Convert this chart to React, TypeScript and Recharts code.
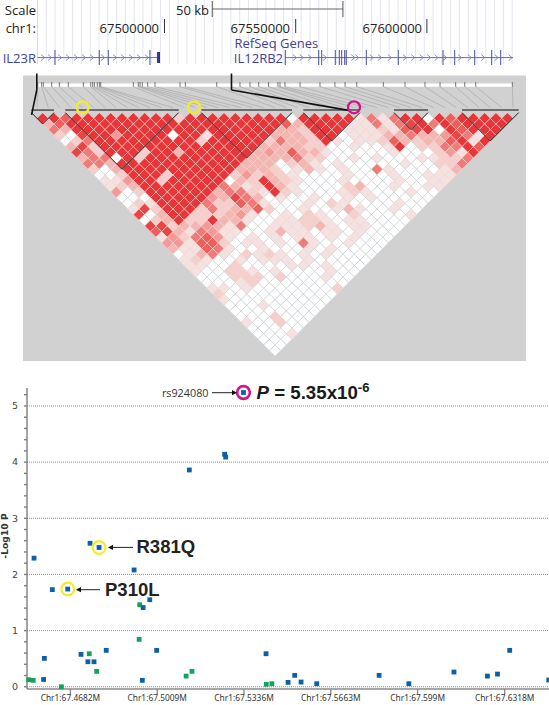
import {
  ScatterChart,
  Scatter,
  XAxis,
  YAxis,
  CartesianGrid,
  ReferenceLine,
  ReferenceArea,
  ReferenceDot,
} from "recharts";

const W = 549;

// ---------- genome track (positions in kb on chr1) ----------
const COORD_TICKS = [67500, 67550, 67600];
const COORD_LABELS = ["67500000", "67550000", "67600000"];
const SCALE_BAR = [67518.2, 67568.0];
const IL23R_SPAN = [67451.6, 67498.1];
const IL23R_EXONS = [67458.27, 67475.15, 67478.58, 67494.47];
const IL23R_THICK = [67497.3, 67497.7, 67498.1];
const IL23R_ARROWS = [
  67453.7, 67456.36, 67460.18, 67463.22, 67466.27, 67469.32, 67472.37, 67476.56, 67481.14, 67484.18,
  67487.23, 67490.28, 67493.33,
];
const IL12RB2_SPAN = [67546.04, 67632.8];
const IL12RB2_EXONS = [
  67546.04, 67558.77, 67559.91, 67565.09, 67566.62, 67567.53, 67568.68, 67569.28, 67576.91, 67589.1,
  67606.14, 67610.6, 67618.22, 67624.7, 67628.13,
];
const IL12RB2_ARROWS = [
  67549.73, 67552.29, 67555.45, 67561.17, 67571.95, 67573.48, 67578.96, 67582.13, 67585.94, 67591.65,
  67594.82, 67598.02, 67600.9, 67603.7, 67606.9, 67612.6, 67616.4, 67621.5, 67626.6, 67631.9,
];
const GUIDE_KB = [
  67451.6, 67454.95, 67458.3, 67461.65, 67465, 67468.35, 67471.7, 67475.05, 67478.4, 67481.75, 67485.1,
  67488.45, 67491.8, 67495.15, 67498.5, 67501.85, 67505.2, 67508.55, 67511.9, 67515.25, 67518.6,
  67521.95, 67525.3, 67528.65, 67532, 67535.35, 67538.7, 67542.05, 67545.4, 67548.75, 67552.1, 67555.45,
  67558.8, 67562.15, 67565.5, 67568.85, 67572.2, 67575.55, 67578.9, 67582.25, 67585.6, 67588.95, 67592.3,
  67595.65, 67599, 67602.35, 67605.7, 67609.05, 67612.4, 67615.75, 67619.1, 67622.45, 67625.8, 67629.15,
  67632.5,
];

// ---------- LD heatmap: one string per distance row, one digit per pair ----------
const LD_COLORS = [
  "#ffffff", "#f4e2e2", "#f4cfcd", "#f3b6b3", "#f19a98", "#ee7b79", "#ec5f5d", "#e94546", "#e83539",
];
const LD_ROWS = [
  "886888888888 2 888888888 0 88888 151588086 88888",
  "368 888888888888888888 63 8888 1151578586 8888",
  "538 88888888888888888 332 888 11121678086 888",
  "207 88 4 8888 0 88 1 88888 3332 88 0111 335334 7518",
  "025 888888888 2 88888 25332 8 10112632336818",
  "372 88888888888888 333322 00100180225586",
  "752 888 2 88 3 888888 343633 10000010002418",
  "355 0 8 2 888888888 3333522 0010100011225",
  "553 88888888888 33302310 100000100225",
  "203 8888888888 33320131010051000013",
  "002 888 2 88888 24232100001000100111",
  "114 88 2 88888 0 328 3210001000010011",
  "123 8888888 53128 310000230010011",
  "402 888888 355218 21000121000100",
  "000 88888 437530 10010010100000",
  "021 8888 5226510 0010210000100",
  "172 888 252336200 10013100100",
  "703 88 222341001 02100200001",
  "023 8 228331001 12210110000",
  "772 33431500 111231011000",
  "673 1541100 131101101000",
  "142564101010110101000",
  "44166201101051001000",
  "3116510010001010000",
  "013510212101010000",
  "12100101110100000",
  "1100200001101000",
  "100221010000100",
  "00022202000100",
  "0001200000000",
  "110100000002",
  "20000000000",
  "1000000000",
  "000100000",
  "00000000",
  "0002000",
  "100200",
  "00000",
  "0001",
  "000",
  "00",
  "0",
];
// haplotype blocks as [first column, last column]
const LD_BLOCKS = [
  [0, 0],
  [3, 11],
  [15, 21],
  [24, 27],
  [32, 33],
  [38, 41],
];
// where each SNP sits on the map strip above the triangle, in column units
const MARKER_POS = [
  -0.44, -0.09, 0.06, 0.8, 1.47, 2.26, 3.59, 4.24, 4.41, 4.56, 4.82, 5.0, 5.12, 8.0, 8.44, 8.59, 8.79, 9.27, 9.91,
  12.12, 12.59, 15.36, 16.66, 17.41, 18.29, 19.06, 19.93, 20.76, 20.94, 21.38, 22.71, 24.47, 25.79, 26.68, 27.71,
  30.06, 31.97, 33.73, 35.06, 36.44, 37.24, 38.21, 41.44,
];
const LD_CIRCLES = [
  { x: 3.53, y: -1.94, color: "#f4ea2c" },
  { x: 13.35, y: -1.94, color: "#f4ea2c" },
  { x: 27.47, y: -1.94, color: "#d4128c" },
];
const LD_LEADERS = [
  [
    { x: -0.52, y: -7.9 },
    { x: -0.52, y: -5 },
    { x: -0.98, y: -0.6 },
  ],
  [
    { x: 16.66, y: -7.9 },
    { x: 16.66, y: -5 },
    { x: 27, y: -1.4 },
  ],
];

// ---------- association plot ----------
const BLUE_MB = [
  67.4545, 67.4756, 67.479, 67.4922, 67.4614, 67.4672, 67.4981, 67.4956, 67.4584, 67.4722, 67.4748, 67.4771, 67.4817,
  67.5007, 67.5419, 67.4581, 67.4953, 67.513, 67.5263, 67.5267, 67.5334, 67.5502, 67.5527, 67.5551, 67.561, 67.5845,
  67.5957, 67.6127, 67.6253, 67.6291, 67.6337, 67.6484,
];
const BLUE_LOGP = [
  2.29, 2.555, 2.48, 2.08, 1.73, 1.74, 1.55, 1.41, 0.505, 0.577, 0.445, 0.445, 0.648, 0.648, 0.588, 0.13, 0.114, 3.86,
  4.14, 4.09, 5.24, 0.078, 0.203, 0.084, 0.054, 0.203, 0.054, 0.262, 0.19, 0.226, 0.648, 0.12,
];
const GREEN_MB = [
  67.4525, 67.4542, 67.4648, 67.4753, 67.4781, 67.4943, 67.4941, 67.5118, 67.514, 67.542, 67.5441,
];
const GREEN_LOGP = [0.125, 0.114, 0, 0.588, 0.274, 1.46, 0.844, 0.19, 0.274, 0.043, 0.054];
const X_TICKS = [67.4682, 67.5009, 67.5336, 67.5663, 67.599, 67.6318];
const Y_TICKS = [0, 0.2, 0.4, 0.6, 0.8, 1, 1.2, 1.4, 1.6, 1.8, 2, 2.2, 2.4, 2.6, 2.8, 3, 3.2, 3.4, 3.6, 3.8, 4, 4.2, 4.4, 4.6, 4.8, 5, 5.2];
const Y_GRID = [0, 1, 2, 3, 4, 5];
const HITS = [
  { x: 67.5334, y: 5.24, color: "#d4128c", width: 2.6 },
  { x: 67.479, y: 2.48, color: "#f4ea2c", width: 2.2 },
  { x: 67.4672, y: 1.74, color: "#f4ea2c", width: 2.2 },
];

const GENE_BLUE = "#3f4396";
const TEXT_FONT = '"Open Sans", "Noto Sans", sans-serif';
const BOLD_FONT = '"Liberation Sans", Arial, sans-serif';
const NO_MARGIN = { top: 0, right: 0, bottom: 0, left: 0 };

const ldCells = LD_ROWS.flatMap((row, r) =>
  row
    .replace(/ /g, "")
    .split("")
    .map((d, k) => ({ x: k + r / 2, y: r, level: Number(d) })),
);

function Diamond({ cx, cy, payload }: any) {
  const h = 5.667;
  const white = payload.level === 0;
  return (
    <polygon
      points={`${cx},${cy - h} ${cx + h},${cy} ${cx},${cy + h} ${cx - h},${cy}`}
      fill={LD_COLORS[payload.level]}
      stroke={white ? "#c5ccd1" : "#f8d6cc"}
      strokeWidth={0.6}
    />
  );
}

function Ring({ cx, cy, payload }: any) {
  return <circle cx={cx} cy={cy} r={6} fill="none" stroke={payload.color} strokeWidth={2.3} />;
}

function Chevron({ cx, cy }: any) {
  return (
    <polyline
      points={`${cx - 2},${cy - 3} ${cx + 1.5},${cy} ${cx - 2},${cy + 3}`}
      fill="none"
      stroke="#7d80ba"
      strokeWidth={0.9}
    />
  );
}

function Square({ cx, cy, fill }: any) {
  return <rect x={cx - 2.4} y={cy - 2.4} width={4.8} height={4.8} fill={fill} />;
}

function Arrow({ x1, x2, y }: { x1: number; x2: number; y: number }) {
  const dir = x2 > x1 ? 1 : -1;
  return (
    <g>
      <line x1={x1} y1={y} x2={x2 - dir * 3} y2={y} stroke="#222" strokeWidth={1} />
      <polygon points={`${x2},${y} ${x2 - dir * 5},${y - 2.6} ${x2 - dir * 5},${y + 2.6}`} fill="#111" />
    </g>
  );
}

function GenomeTrack() {
  const geneY = 57.6;
  return (
    <ScatterChart width={W} height={70} margin={NO_MARGIN} style={{ position: "absolute", left: 0, top: 0 }}>
      <XAxis type="number" dataKey="x" domain={[67437.31, 67646.54]} hide />
      <YAxis type="number" dataKey="y" domain={[0, 70]} reversed hide />
      {GUIDE_KB.map((kb, i) => (
        <ReferenceLine
          key={kb}
          segment={[{ x: kb, y: 0 }, { x: kb, y: 64 }]}
          stroke={i === 0 ? "#eed3cb" : "#e3e6f0"}
          strokeWidth={1}
        />
      ))}
      <ReferenceLine segment={[{ x: SCALE_BAR[0], y: 9 }, { x: SCALE_BAR[1], y: 9 }]} stroke="#666" />
      {SCALE_BAR.map((kb) => (
        <ReferenceLine key={kb} segment={[{ x: kb, y: 1 }, { x: kb, y: 17 }]} stroke="#555" />
      ))}
      {COORD_TICKS.map((kb) => (
        <ReferenceLine key={kb} segment={[{ x: kb, y: 19 }, { x: kb, y: 33 }]} stroke="#333" />
      ))}
      <ReferenceLine segment={[{ x: IL23R_SPAN[0], y: geneY }, { x: IL23R_SPAN[1], y: geneY }]} stroke="#6a6db0" />
      <ReferenceLine segment={[{ x: IL12RB2_SPAN[0], y: geneY }, { x: IL12RB2_SPAN[1], y: geneY }]} stroke="#6a6db0" />
      {IL23R_EXONS.concat(IL12RB2_EXONS).map((kb) => (
        <ReferenceLine key={kb} segment={[{ x: kb, y: 50 }, { x: kb, y: 65 }]} stroke="#4a4e9e" />
      ))}
      {IL23R_THICK.map((kb) => (
        <ReferenceLine key={kb} segment={[{ x: kb, y: 52 }, { x: kb, y: 63 }]} stroke="#2c2f90" />
      ))}
      <Scatter
        data={IL23R_ARROWS.concat(IL12RB2_ARROWS).map((x) => ({ x, y: geneY }))}
        shape={<Chevron />}
        isAnimationActive={false}
      />
    </ScatterChart>
  );
}

const LD_STYLE = { position: "absolute", left: 0, top: 60 } as const;

function ldAxes() {
  return [
    <XAxis key="x" type="number" dataKey="x" domain={[-3.765, 44.676]} hide />,
    <YAxis key="y" type="number" dataKey="y" domain={[-10.288, 43.53]} reversed hide />,
  ];
}

function LdPanel() {
  return (
    <>
      <ScatterChart width={W} height={305} margin={NO_MARGIN} style={LD_STYLE}>
        {ldAxes()}
        <ReferenceArea x1={-1.735} x2={42.647} y1={-7.55} y2={42.83} fill="#d1d1d1" fillOpacity={1} stroke="none" />
        <ReferenceArea x1={-0.44} x2={41.44} y1={-6.14} y2={-5.58} fill="#ffffff" fillOpacity={1} stroke="none" />
        {MARKER_POS.map((pos, i) => (
          <ReferenceLine
            key={`m${i}`}
            segment={[{ x: pos, y: -5.58 }, { x: i - 0.5, y: -1.9 }]}
            stroke="#a3a3a3"
            strokeWidth={0.6}
          />
        ))}
        {MARKER_POS.map((pos, i) => (
          <ReferenceLine
            key={`t${i}`}
            segment={[{ x: pos, y: -6.4 }, { x: pos, y: -5.58 }]}
            stroke="#555"
            strokeWidth={0.8}
          />
        ))}
        <Scatter data={ldCells} shape={<Diamond />} isAnimationActive={false} />
      </ScatterChart>
      {/* second layer: reference lines would otherwise sit under the cells */}
      <ScatterChart width={W} height={305} margin={NO_MARGIN} style={LD_STYLE}>
        {ldAxes()}
        {LD_BLOCKS.map(([a, b]) => {
          const apex = { x: (a + b) / 2, y: b - a + 1 };
          return [
            <ReferenceLine key={`b${a}top`} segment={[{ x: a - 1, y: -1.45 }, { x: b + 1, y: -1.45 }]} stroke="#4c4c4c" strokeWidth={1.5} />,
            <ReferenceLine key={`b${a}l`} segment={[{ x: a - 1, y: -1 }, apex]} stroke="#1c1c1c" strokeWidth={1} />,
            <ReferenceLine key={`b${a}r`} segment={[{ x: b + 1, y: -1 }, apex]} stroke="#1c1c1c" strokeWidth={1} />,
          ];
        })}
        {LD_LEADERS.flatMap((pts, i) =>
          pts.slice(1).map((p, j) => (
            <ReferenceLine key={`l${i}${j}`} segment={[pts[j], p]} stroke="#111" strokeWidth={1.6} />
          )),
        )}
        <Scatter data={LD_CIRCLES} shape={<Ring />} isAnimationActive={false} />
      </ScatterChart>
    </>
  );
}

function AssocPlot() {
  const blue = BLUE_MB.map((x, i) => ({ x, y: BLUE_LOGP[i] }));
  const green = GREEN_MB.map((x, i) => ({ x, y: GREEN_LOGP[i] }));
  return (
    <ScatterChart width={W} height={335} margin={{ top: 18, right: 0, bottom: 0, left: 0 }} style={{ position: "absolute", left: 0, top: 370 }}>
      <CartesianGrid vertical={false} horizontalValues={Y_GRID} stroke="#8f8f8f" strokeDasharray="1 1" />
      <XAxis
        type="number"
        dataKey="x"
        domain={[67.45185, 67.6485]}
        ticks={X_TICKS}
        interval={0}
        height={16}
        tickSize={5}
        tickMargin={1}
        stroke="#8a8a8a"
        strokeWidth={1.4}
        tick={{ fontSize: 8.4, fill: "#333", fontFamily: '"Noto Sans", sans-serif' }}
        tickFormatter={(v: number) => `Chr1:${v}M`}
      />
      <YAxis
        type="number"
        dataKey="y"
        domain={[-0.04, 5.32]}
        ticks={Y_TICKS}
        interval={0}
        width={27}
        tickSize={3}
        tickMargin={6}
        stroke="#7f7f7f"
        strokeWidth={1.4}
        tick={{ fontSize: 9.5, fill: "#444", fontFamily: '"DejaVu Sans", sans-serif' }}
        tickFormatter={(v: number) => (Number.isInteger(v) ? `${v}` : "")}
      />
      <Scatter data={green} fill="#13a35c" shape={<Square />} isAnimationActive={false} />
      <Scatter data={blue} fill="#0d5fa6" shape={<Square />} isAnimationActive={false} />
      {HITS.map((h) => (
        <ReferenceDot key={h.x} x={h.x} y={h.y} r={6.4} fill="none" stroke={h.color} strokeWidth={h.width} />
      ))}
    </ScatterChart>
  );
}

function Labels() {
  return (
    <svg width={W} height={705} style={{ position: "absolute", left: 0, top: 0, pointerEvents: "none" }}>
      <g fontFamily={TEXT_FONT} fontSize={13} fill="#222">
        <text x={36} y={15} textAnchor="end">Scale</text>
        <text x={36} y={33} textAnchor="end">chr1:</text>
        <text x={209} y={14.5} textAnchor="end">50 kb</text>
        <text x={159} y={32.5} textAnchor="end">{COORD_LABELS[0]}</text>
        <text x={290} y={32.5} textAnchor="end">{COORD_LABELS[1]}</text>
        <text x={422} y={32.5} textAnchor="end">{COORD_LABELS[2]}</text>
      </g>
      <g fontFamily={TEXT_FONT} fontSize={13} fill={GENE_BLUE}>
        <text x={234.5} y={47.5}>RefSeq Genes</text>
        <text x={283} y={62.5} textAnchor="end">IL12RB2</text>
        <text x={36} y={62.5} textAnchor="end">IL23R</text>
      </g>

      <text x={208.5} y={396.5} textAnchor="end" fontFamily={TEXT_FONT} fontSize={10.8} fill="#333">rs924080</text>
      <Arrow x1={212} x2={237} y={392.7} />
      <text x={256.5} y={398.5} fontFamily={BOLD_FONT} fontWeight="bold" fontSize={18.7} fill="#1a1a1a">
        <tspan fontStyle="italic">P</tspan>
        <tspan> = 5.35x10</tspan>
        <tspan fontSize={13} dy={-7}>-6</tspan>
      </text>

      <Arrow x1={133} x2={108} y={547.4} />
      <text x={136.5} y={553} fontFamily={BOLD_FONT} fontWeight="bold" fontSize={18.5} fill="#222">R381Q</text>
      <Arrow x1={100} x2={76} y={589.7} />
      <text x={105} y={595.5} fontFamily={BOLD_FONT} fontWeight="bold" fontSize={18.5} fill="#222">P310L</text>

      <text
        transform="translate(8,536) rotate(-90)"
        textAnchor="middle"
        fontFamily={'"DejaVu Sans", sans-serif'}
        fontWeight="bold"
        fontSize={9.2}
        fill="#333"
      >
        -Log10 P
      </text>
    </svg>
  );
}

export default function App() {
  return (
    <div style={{ position: "relative", width: W, height: 705, background: "#fff", overflow: "hidden" }}>
      <style>{"body{margin:0}"}</style>
      <GenomeTrack />
      <LdPanel />
      <AssocPlot />
      <Labels />
    </div>
  );
}
